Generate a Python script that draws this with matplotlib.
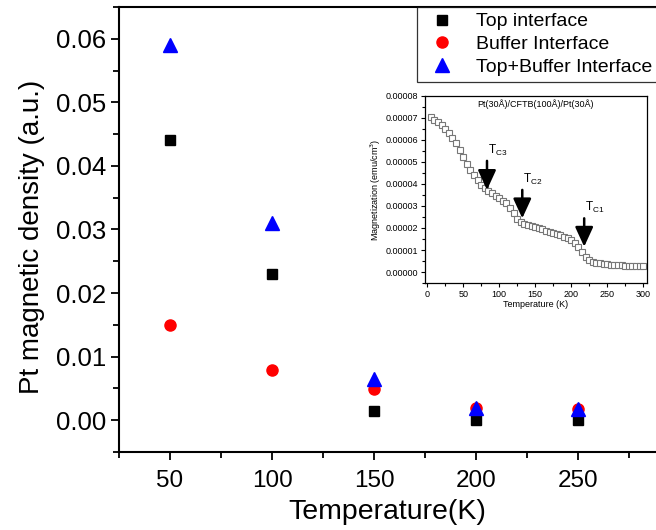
import matplotlib
matplotlib.use("Agg")
import matplotlib.pyplot as plt
from matplotlib.ticker import MultipleLocator, FormatStrFormatter

plt.rcParams['font.family'] = ['Liberation Sans', 'DejaVu Sans']

# Pt magnetic density vs temperature
temperature = [50, 100, 150, 200, 250]
top_interface = [0.044, 0.023, 0.0014, 0.0, 0.0]
buffer_interface = [0.015, 0.0079, 0.0049, 0.0019, 0.0017]
top_buffer_interface = [0.059, 0.031, 0.0065, 0.0019, 0.0017]

# M(T) of the Pt(30Å)/CFTB(100Å)/Pt(30Å) stack
mt_temperature = [5, 10, 15, 20, 25, 30, 35, 40, 45, 50, 55, 60, 65, 70, 75,
                  80, 85, 90, 95, 100, 105, 110, 115, 120, 125, 130, 135, 140,
                  145, 150, 155, 160, 165, 170, 175, 180, 185, 190, 195, 200,
                  205, 210, 215, 220, 225, 230, 235, 240, 245, 250, 255, 260,
                  265, 270, 275, 280, 285, 290, 295, 300]
mt_magnetization = [7.03e-5, 6.92e-5, 6.80e-5, 6.68e-5, 6.52e-5, 6.32e-5,
                    6.10e-5, 5.85e-5, 5.56e-5, 5.24e-5, 4.93e-5, 4.64e-5,
                    4.40e-5, 4.18e-5, 3.97e-5, 3.80e-5, 3.68e-5, 3.58e-5,
                    3.46e-5, 3.35e-5, 3.24e-5, 3.12e-5, 2.92e-5, 2.67e-5,
                    2.40e-5, 2.26e-5, 2.19e-5, 2.14e-5, 2.08e-5, 2.03e-5,
                    1.98e-5, 1.94e-5, 1.88e-5, 1.83e-5, 1.78e-5, 1.73e-5,
                    1.67e-5, 1.60e-5, 1.53e-5, 1.45e-5, 1.32e-5, 1.15e-5,
                    0.92e-5, 0.70e-5, 0.56e-5, 0.47e-5, 0.42e-5, 0.39e-5,
                    0.37e-5, 0.35e-5, 0.33e-5, 0.32e-5, 0.31e-5, 0.30e-5,
                    0.29e-5, 0.29e-5, 0.28e-5, 0.27e-5, 0.27e-5, 0.27e-5]

tc_labels = ['3', '2', '1']
tc_temperature = [83, 132, 218]
tc_arrow_top = [5.05e-5, 3.73e-5, 2.44e-5]
tc_arrow_tip = [3.73e-5, 2.44e-5, 1.15e-5]

fig = plt.figure(figsize=(6.56, 5.30), dpi=100)
ax = fig.add_axes([0.1814, 0.1472, 0.8186, 0.8396])

ax.plot(temperature, top_interface, 's', color='black', markersize=7.5,
        label='Top interface', clip_on=False)
ax.plot(temperature, buffer_interface, 'o', color='red', markersize=8,
        label='Buffer Interface', clip_on=False)
ax.plot(temperature, top_buffer_interface, '^', color='blue', markersize=9.5,
        label='Top+Buffer Interface', clip_on=False)

ax.set_xlim(25, 288)
ax.set_ylim(-0.005, 0.065)
ax.xaxis.set_major_locator(MultipleLocator(50))
ax.xaxis.set_minor_locator(MultipleLocator(25))
ax.yaxis.set_major_locator(MultipleLocator(0.01))
ax.yaxis.set_minor_locator(MultipleLocator(0.005))
ax.yaxis.set_major_formatter(FormatStrFormatter('%.2f'))
ax.set_xticks([50, 100, 150, 200, 250])
ax.tick_params(which='major', direction='out', length=6, width=1.3, pad=4)
ax.tick_params(which='minor', direction='out', length=4, width=1.3)
ax.tick_params(axis='x', labelsize=17.5, pad=7)
ax.tick_params(axis='y', labelsize=18.5, pad=3)
ax.spines['right'].set_visible(False)
for side in ('left', 'bottom', 'top'):
    ax.spines[side].set_linewidth(1.5)
ax.set_xlabel('Temperature(K)', fontsize=20.5, labelpad=5)
ax.set_ylabel('Pt magnetic density (a.u.)', fontsize=20, labelpad=8)
ax.yaxis.label.set_y(0.483)

leg = fig.legend(loc='upper left', bbox_to_anchor=(0.636, 0.987),
                 fontsize=14, frameon=True, fancybox=False,
                 borderpad=0.3, labelspacing=0.26, handletextpad=0.8,
                 handlelength=1.9, borderaxespad=0)
leg.get_frame().set_edgecolor('black')
leg.get_frame().set_linewidth(0.9)

# Inset: magnetization curve
ins = fig.add_axes([0.648, 0.466, 0.338, 0.353])
ins.plot(mt_temperature, mt_magnetization, 's', markersize=3.8,
         markerfacecolor='white', markeredgecolor='#777777',
         markeredgewidth=0.8)
ins.set_xlim(-3, 305)
ins.set_ylim(-0.000005, 0.00008)
ins.xaxis.set_major_locator(MultipleLocator(50))
ins.xaxis.set_minor_locator(MultipleLocator(25))
ins.yaxis.set_major_locator(MultipleLocator(0.00001))
ins.yaxis.set_minor_locator(MultipleLocator(0.000005))
ins.yaxis.set_major_formatter(FormatStrFormatter('%.5f'))
ins.tick_params(which='major', direction='out', length=3, width=0.8,
                labelsize=6.5, pad=2)
ins.tick_params(which='minor', direction='out', length=2, width=0.8)
for s in ins.spines.values():
    s.set_linewidth(0.9)
ins.set_xlabel('Temperature (K)', fontsize=6.5, labelpad=1)
ins.set_ylabel('Magnetization (emu/cm$^3$)', fontsize=6.5, labelpad=2)
ins.text(0.5, 0.955, 'Pt(30Å)/CFTB(100Å)/Pt(30Å)', transform=ins.transAxes,
         ha='center', va='center', fontsize=6.5)

for lab, t, y0, y1 in zip(tc_labels, tc_temperature, tc_arrow_top,
                          tc_arrow_tip):
    ins.annotate('', xy=(t, y1), xytext=(t, y0),
                 arrowprops=dict(arrowstyle='-|>,head_width=0.55,head_length=1.2',
                                 color='black', lw=1.8, shrinkA=0, shrinkB=0))
    ins.text(t + 1, y0 + 0.0000048, 'T$_{\\mathregular{C' + lab + '}}$',
             ha='left', va='center', fontsize=8.5)

fig.savefig('out.png', dpi=100)
